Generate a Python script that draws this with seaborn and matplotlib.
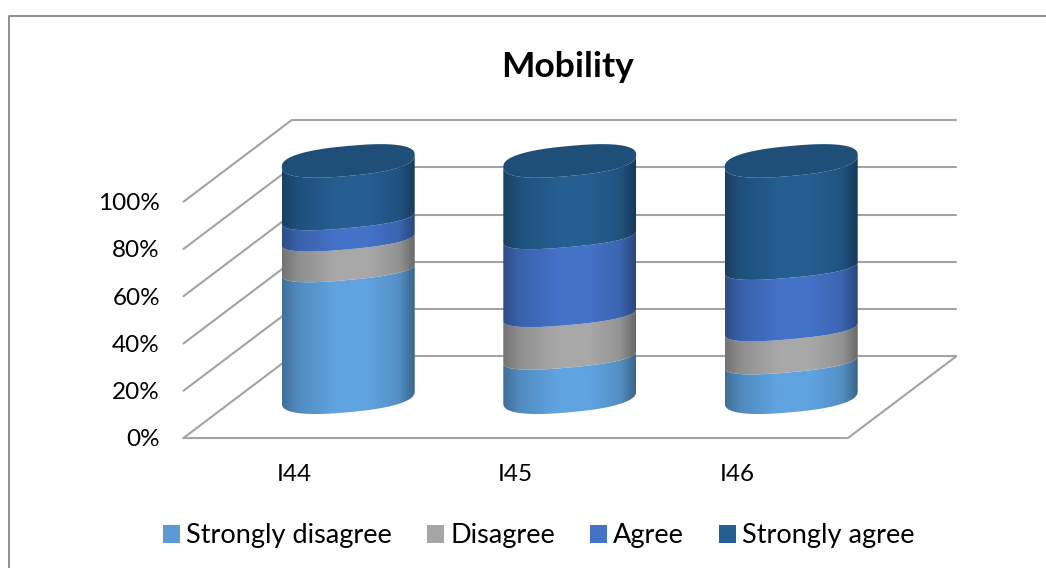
import numpy as np
import pandas as pd
import matplotlib
matplotlib.use("Agg")
import matplotlib.pyplot as plt
from matplotlib.lines import Line2D
from matplotlib.patches import PathPatch, Rectangle
from matplotlib.path import Path
import seaborn as sns

items = ["I44", "I45", "I46"]
responses = ["Strongly disagree", "Disagree", "Agree", "Strongly agree"]
strongly_disagree = [54, 17, 15]
disagree = [13, 18, 14]
agree = [9, 33, 26]
strongly_agree = [24, 32, 45]
palette = ["#5FA3E0", "#A8A8A8", "#4472C8", "#255E91"]
top_cap_colour = "#1F4E79"
title = "Mobility"
percent_ticks = [0, 20, 40, 60, 80, 100]

W, H = 1046, 568
sns.set_theme(style="white")
plt.rcParams["font.family"] = ["Lato", "DejaVu Sans"]

# Cumulative table: each response ends where the next one starts.
shares = pd.DataFrame(
    [strongly_disagree, disagree, agree, strongly_agree],
    index=responses, columns=items,
)
cumulative = shares.cumsum()
long = (
    cumulative.rename_axis("response")
    .reset_index()
    .melt(id_vars="response", var_name="item", value_name="top")
)

fig = plt.figure(figsize=(W / 100, H / 100), dpi=100, facecolor="white")
ax_left, ax_right, ax_top, ax_bottom = 183.5, 848.0, 201.7, 438.0
ax = fig.add_axes([ax_left / W, 1 - ax_bottom / H,
                   (ax_right - ax_left) / W, (ax_bottom - ax_top) / H])

# Bars give the position, width and height of every cylinder segment.
sns.barplot(data=long, x="item", y="top", hue="response",
            hue_order=responses, palette=palette, dodge=False,
            width=0.6, legend=False, ax=ax)
ax.set_xlim(-0.5, 2.5)
ax.set_ylim(0, 100)
ax.set_xlabel("")
ax.set_ylabel("")
ax.set_yticks(percent_ticks)
ax.set_yticklabels([f"{t}%" for t in percent_ticks])
ax.tick_params(axis="y", length=0, pad=17, labelsize=17.5, colors="black")
ax.tick_params(axis="x", length=0, pad=19, labelsize=17.5, colors="black")
ax.patch.set_visible(False)
for spine in ax.spines.values():
    spine.set_visible(False)

# Oblique depth of the chart box, in data units.
depth_x, depth_y = 0.4876, 34.5
grid_colour = "#A3A3A3"
grid_kw = dict(color=grid_colour, lw=1.5, clip_on=False, zorder=1,
               solid_capstyle="round")
for t in percent_ticks:
    ax.plot([-0.5, -0.5 + depth_x], [t, t + depth_y], **grid_kw)
    ax.plot([-0.5 + depth_x, 2.5 + depth_x], [t + depth_y, t + depth_y], **grid_kw)
ax.plot([-0.5, 2.5, 2.5 + depth_x], [0, 0, depth_y], **grid_kw)

# Cross-section of the cylinders: a sheared, slightly squared ellipse.
# Joints between segments curve less than the outer base and top.
outer_rise, joint_rise, ellipse_shear = 6.35, 4.4, 2.54
roundness = 0.82
shade_pos = [0.0, 0.12, 0.4, 0.65, 0.88, 1.0]
shade_val = [0.68, 0.85, 1.0, 1.0, 0.88, 0.62]


def ellipse_points(cx, cy, half_width, t, rise):
    c = np.sign(np.cos(t)) * np.abs(np.cos(t)) ** roundness
    s = np.sign(np.sin(t)) * np.abs(np.sin(t)) ** roundness
    return np.column_stack([
        cx + half_width * c,
        cy + ellipse_shear * c + rise * s,
    ])


def draw_segment(cx, half_width, low, high, low_rise, high_rise, colour):
    front = np.linspace(np.pi, 2 * np.pi, 80)
    outline = np.vstack([ellipse_points(cx, low, half_width, front, low_rise),
                         ellipse_points(cx, high, half_width, front[::-1], high_rise)])
    clip = PathPatch(Path(np.vstack([outline, outline[:1]])),
                     transform=ax.transData, fc="none", ec="none",
                     clip_on=False)
    ax.add_patch(clip)
    rgb = np.array(matplotlib.colors.to_rgb(colour))
    ramp = np.interp(np.linspace(0, 1, 256), shade_pos, shade_val)
    img = ramp[None, :, None] * rgb[None, None, :]
    margin = outer_rise + ellipse_shear
    im = ax.imshow(img, extent=[cx - half_width, cx + half_width,
                                low - margin, high + margin],
                   aspect="auto", interpolation="bilinear", zorder=3,
                   origin="lower")
    # The upper part of each cylinder rises past the axes box.
    im.set_clip_box(fig.bbox)
    im.set_clip_path(clip)


floors = cumulative.shift(1).fillna(0)
for response, container in zip(responses, ax.containers):
    colour = palette[responses.index(response)]
    is_first, is_last = response == responses[0], response == responses[-1]
    for item, bar in zip(items, container):
        bar.set_visible(False)
        cx = bar.get_x() + bar.get_width() / 2 + depth_x / 2
        half_width = bar.get_width() / 2
        low = floors.loc[response, item] + depth_y / 2
        high = bar.get_height() + depth_y / 2
        draw_segment(cx, half_width, low, high,
                     outer_rise if is_first else joint_rise,
                     outer_rise if is_last else joint_rise, colour)
        if is_last:
            around = np.linspace(0, 2 * np.pi, 160)
            ax.fill(*ellipse_points(cx, high, half_width, around, outer_rise).T,
                    color=top_cap_colour, lw=0, zorder=4, clip_on=False)

ax.set_xlim(-0.5, 2.5)
ax.set_ylim(0, 100)

fig.text(567 / W, 1 - 67 / H, title, fontsize=25.5, fontweight="bold",
         ha="center", va="center", color="black")

handles = [Rectangle((0, 0), 1, 1, fc=c, ec="none")
           for c in ["#5B9BD5", "#A5A5A5", "#4472C4", "#255E91"]]
fig.legend(handles, responses, loc="center", ncols=4,
           bbox_to_anchor=(539 / W, 1 - 536 / H), frameon=False,
           fontsize=19.5, handlelength=0.63, handleheight=0.63,
           handletextpad=0.22, columnspacing=1.3, borderpad=0,
           labelcolor="black")

# Chart frame: only its top and left edges fall inside the canvas.
frame_colour = "#8E8E8E"
fig.add_artist(Line2D([8.5 / W, 8.5 / W, 1], [0, 1 - 15.5 / H, 1 - 15.5 / H],
                      color=frame_colour, lw=1.4))

fig.savefig("out.png", dpi=100)
